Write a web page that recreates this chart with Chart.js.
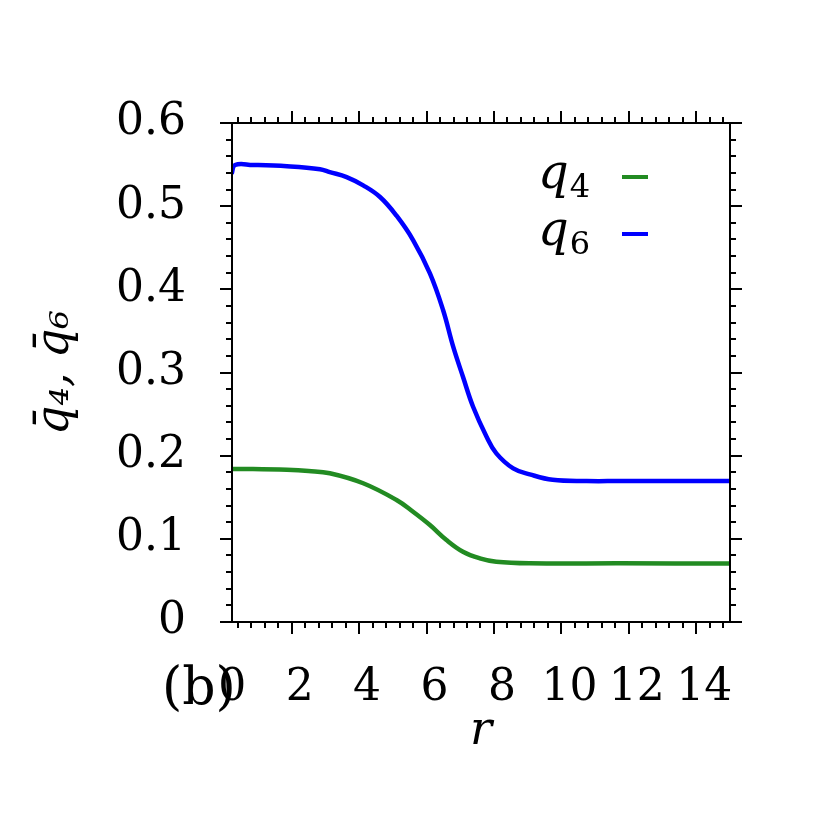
<!DOCTYPE html>
<html>
<head>
<meta charset="utf-8">
<script src="https://cdn.jsdelivr.net/npm/chart.js@4.4.1/dist/chart.umd.min.js"></script>
<style>
  html, body { margin: 0; padding: 0; background: #fff; }
</style>
</head>
<body>
<canvas id="chart" width="832" height="832"></canvas>
<script>
// values
const q4R    = [0.23, 0.85, 1.86, 2.5, 3.13, 4.12, 5.11, 5.60, 6.10, 6.59, 7.08, 7.58, 8.07, 9.06, 11.73, 15.0];
const q4Vals = [0.184, 0.184, 0.183, 0.1815, 0.1788, 0.1668, 0.1467, 0.1326, 0.1166, 0.0986, 0.0845, 0.0766, 0.0725, 0.0706, 0.0705, 0.0703];

const q6R    = [0.22, 0.32, 0.85, 1.86, 2.84, 3.13, 3.63, 4.12, 4.62, 5.11, 5.60, 6.10, 6.49, 6.79, 7.08, 7.38, 7.78, 8.07, 8.57, 9.06, 9.74, 10.75, 11.73, 15.0];
const q6Vals = [0.539, 0.5495, 0.5495, 0.548, 0.5445, 0.541, 0.535, 0.525, 0.511, 0.4885, 0.4593, 0.4192, 0.3751, 0.331, 0.2949, 0.2588, 0.2228, 0.2028, 0.1847, 0.1776, 0.171, 0.1695, 0.1695, 0.1695];

const xTicks = [0, 2, 4, 6, 8, 10, 12, 14];
const xTickLabels = ['0', '2', '4', '6', '8', '10', '12', '14'];
const yTicks = [0, 0.1, 0.2, 0.3, 0.4, 0.5, 0.6];
const yTickLabels = ['0', '0.1', '0.2', '0.3', '0.4', '0.5', '0.6'];

const SERIF = '"DejaVu Serif", "Liberation Serif", serif';

function pts(xs, ys) {
  return xs.map((x, i) => ({ x: x, y: ys[i] }));
}

// box, outward major/minor ticks on all four sides
const framePlugin = {
  id: 'frame',
  afterDatasetsDraw(chart) {
    const { ctx, chartArea: a, scales: { x, y } } = chart;
    ctx.save();
    ctx.strokeStyle = '#000';
    ctx.lineWidth = 2;
    ctx.strokeRect(a.left, a.top, a.right - a.left, a.bottom - a.top);
    ctx.beginPath();
    for (let i = 0; i <= 30; i++) {
      const v = i * 0.02;
      const py = Math.round(y.getPixelForValue(v));
      const len = i % 5 === 0 ? 12 : 6;
      ctx.moveTo(a.left - len, py); ctx.lineTo(a.left, py);
      ctx.moveTo(a.right, py); ctx.lineTo(a.right + len, py);
    }
    for (let i = 0; i <= 38; i++) {
      const v = i * 0.4;
      if (v < x.min || v > x.max) continue;
      const px = Math.round(x.getPixelForValue(v));
      const len = i % 5 === 0 ? 12 : 6;
      ctx.moveTo(px, a.bottom); ctx.lineTo(px, a.bottom + len);
      ctx.moveTo(px, a.top - len); ctx.lineTo(px, a.top);
    }
    ctx.stroke();
    ctx.restore();
  }
};

// gnuplot-style key: label then a short sample line
const keyPlugin = {
  id: 'key',
  afterDraw(chart) {
    const { ctx } = chart;
    ctx.save();
    chart.data.datasets.forEach((ds, i) => {
      const yc = 180 + i * 57;
      const sub = ds.label.slice(1);
      ctx.fillStyle = '#000';
      ctx.textBaseline = 'alphabetic';
      ctx.font = '32px ' + SERIF;
      ctx.textAlign = 'right';
      ctx.fillText(String.fromCharCode(48 + '₀₁₂₃₄₅₆₇₈₉'.indexOf(sub)), 590, yc + 17);
      const w = ctx.measureText('4').width;
      ctx.font = 'italic 48px ' + SERIF;
      ctx.fillText('q', 590 - w - 1, yc + 8);
      ctx.strokeStyle = ds.borderColor;
      ctx.lineWidth = 4;
      ctx.beginPath();
      ctx.moveTo(622, yc - 3);
      ctx.lineTo(648, yc - 3);
      ctx.stroke();
    });
    ctx.font = '52px ' + SERIF;
    ctx.textAlign = 'left';
    ctx.textBaseline = 'middle';
    ctx.fillStyle = '#000';
    ctx.fillText('(b)', 162, 690);
    ctx.restore();
  }
};

new Chart(document.getElementById('chart'), {
  type: 'line',
  data: {
    datasets: [
      { label: 'q₄', data: pts(q4R, q4Vals), borderColor: '#228b22', borderWidth: 4.5,
        pointRadius: 0, tension: 0.4, fill: false },
      { label: 'q₆', data: pts(q6R, q6Vals), borderColor: '#0000ff', borderWidth: 4.5,
        pointRadius: 0, tension: 0.4, fill: false }
    ]
  },
  options: {
    responsive: false,
    animation: false,
    layout: { padding: { top: 123, right: 102, bottom: 0, left: 0 } },
    plugins: {
      legend: { display: false },
      tooltip: { enabled: false }
    },
    scales: {
      x: {
        type: 'linear',
        min: 0.23,
        max: 15,
        grid: { display: false },
        border: { display: false },
        afterBuildTicks: s => { s.ticks = xTicks.map(v => ({ value: v })); },
        afterFit: s => { s.height = 210; },
        ticks: {
          color: '#000',
          font: { family: SERIF, size: 44 },
          padding: 32,
          labelOffset: 8,
          maxRotation: 0,
          autoSkip: false,
          callback: (v, i) => xTickLabels[i]
        },
        title: {
          display: true,
          text: 'r',
          color: '#000',
          font: { family: SERIF, size: 46, style: 'italic' },
          padding: { top: 0, bottom: 72 }
        }
      },
      y: {
        type: 'linear',
        min: 0,
        max: 0.6,
        grid: { display: false },
        border: { display: false },
        afterBuildTicks: s => { s.ticks = yTicks.map(v => ({ value: v })); },
        afterFit: s => { s.width = 232; },
        ticks: {
          color: '#000',
          font: { family: SERIF, size: 44 },
          padding: 38,
          autoSkip: false,
          callback: (v, i) => yTickLabels[i]
        },
        title: {
          display: true,
          text: 'q̄₄, q̄₆',
          color: '#000',
          font: { family: SERIF, size: 46, style: 'italic' },
          padding: { top: 28, bottom: 0 }
        }
      }
    }
  },
  plugins: [framePlugin, keyPlugin]
});
</script>
</body>
</html>
